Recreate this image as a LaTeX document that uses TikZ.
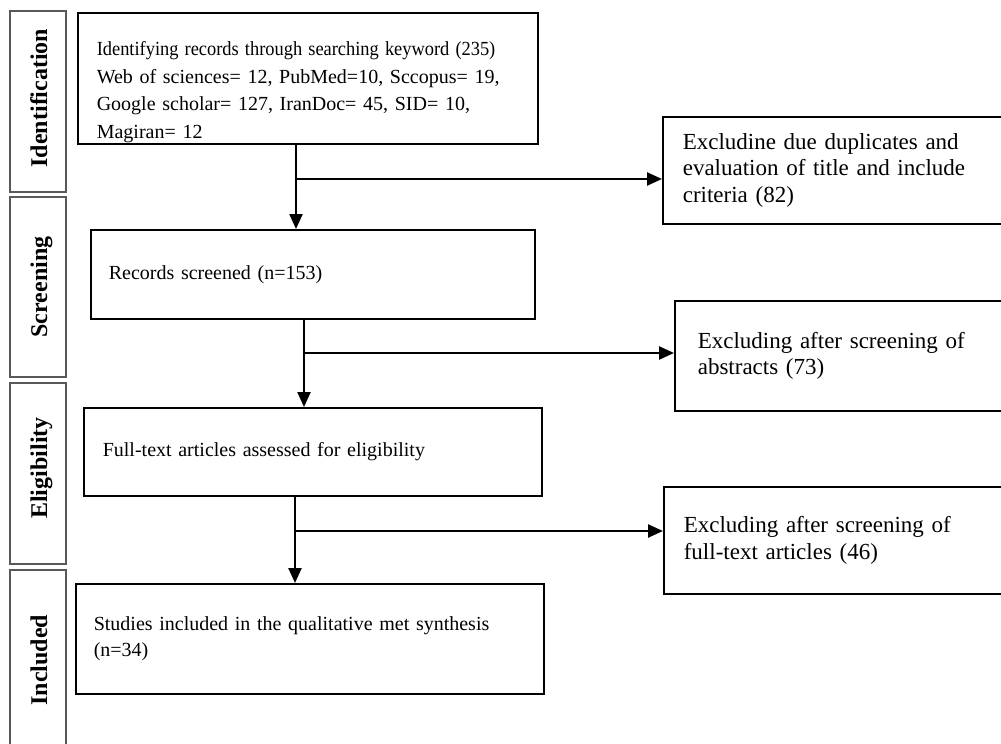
\documentclass[tikz,border=0pt]{standalone}
\usepackage{fontspec}
\setmainfont{Liberation Serif}
\usetikzlibrary{arrows.meta}
\usetikzlibrary{positioning}

\begin{document}
\begin{tikzpicture}[x=1pt,y=-1pt,>=Triangle,
		phase/.style={draw=black!65,line width=1.3pt},
		phasetext/.style={rotate=90,anchor=base,inner sep=0pt,font=\fontsize{24}{24}\selectfont\bfseries},
		flowbox/.style={draw,line width=1.6pt,anchor=north west,align=left,inner ysep=1pt,font=\fontsize{20}{27.5}\selectfont},
		exbox/.style={flowbox,minimum width=360pt,minimum height=107pt,font=\fontsize{23}{26.5}\selectfont},
		flow/.style={line width=2.4pt,-{Triangle[length=15pt,width=13pt]}}]
		\useasboundingbox (0,0) rectangle (1001,744);
		\clip (0,0) rectangle (1001,744);
		\fill[white] (0,0) rectangle (1001,744);
		% stages on the left
		\draw[phase] (10,11) rectangle (66,192);
		\draw[phase] (10,197) rectangle (66,377);
		\draw[phase] (10,383) rectangle (66,564);
		\draw[phase] (10,570) rectangle (66,760);
		\node[phasetext] (lid) at (47,98) {Identification};
		\node[phasetext] (lscr) at (47,287) {Screening};
		\node[phasetext] (lelig) at (47,468) {Eligibility};
		\node[phasetext] (linc) at (47,660) {Included};
		% main column
		\node[flowbox,minimum width=460pt,minimum height=131pt,inner xsep=19pt,text width=422pt,text height=42pt] (id) at (77,12)
			{\scalebox{0.92}[1]{Identifying records through searching keyword (235)}\\
			Web of sciences= 12, PubMed=10, Sccopus= 19,\\
			Google scholar= 127, IranDoc= 45, SID= 10,\\
			Magiran= 12};
		\node[flowbox,minimum width=444pt,minimum height=89pt,inner xsep=18pt,text width=408pt] (scr) at (90,229)
			{Records screened (n=153)};
		\node[flowbox,minimum width=458pt,minimum height=88pt,inner xsep=19pt,text width=420pt] (elig) at (83,407)
			{Full-text articles assessed for eligibility};
		\node[flowbox,minimum width=468pt,minimum height=110pt,inner xsep=18pt,text width=432pt,font=\fontsize{20}{26}\selectfont] (inc) at (75,583)
			{Studies included in the qualitative met synthesis\\ (n=34)};
		% exclusions
		\node[exbox,inner xsep=20pt,text width=320pt] (ex1) at (662,116)
			{Excludine due duplicates and\\ evaluation of title and include\\ criteria (82)};
		\node[exbox,minimum height=110pt,inner xsep=23pt,text width=314pt] (ex2) at (674,300)
			{Excluding after screening of\\ abstracts (73)};
		\node[exbox,inner xsep=20pt,text width=320pt] (ex3) at (663,486)
			{Excluding after screening of\\ full-text articles (46)};
		% arrows
		\coordinate (j1) at (296,179);
		\coordinate (j2) at (304,353);
		\coordinate (j3) at (295,531);
		\draw[flow] (id.south -| j1) -- (scr.north -| j1);
		\draw[flow] (j1) -- (ex1.west |- j1);
		\draw[flow] (scr.south -| j2) -- (elig.north -| j2);
		\draw[flow] (j2) -- (ex2.west |- j2);
		\draw[flow] (elig.south -| j3) -- (inc.north -| j3);
		\draw[flow] (j3) -- (ex3.west |- j3);
	\end{tikzpicture}
\end{document}
